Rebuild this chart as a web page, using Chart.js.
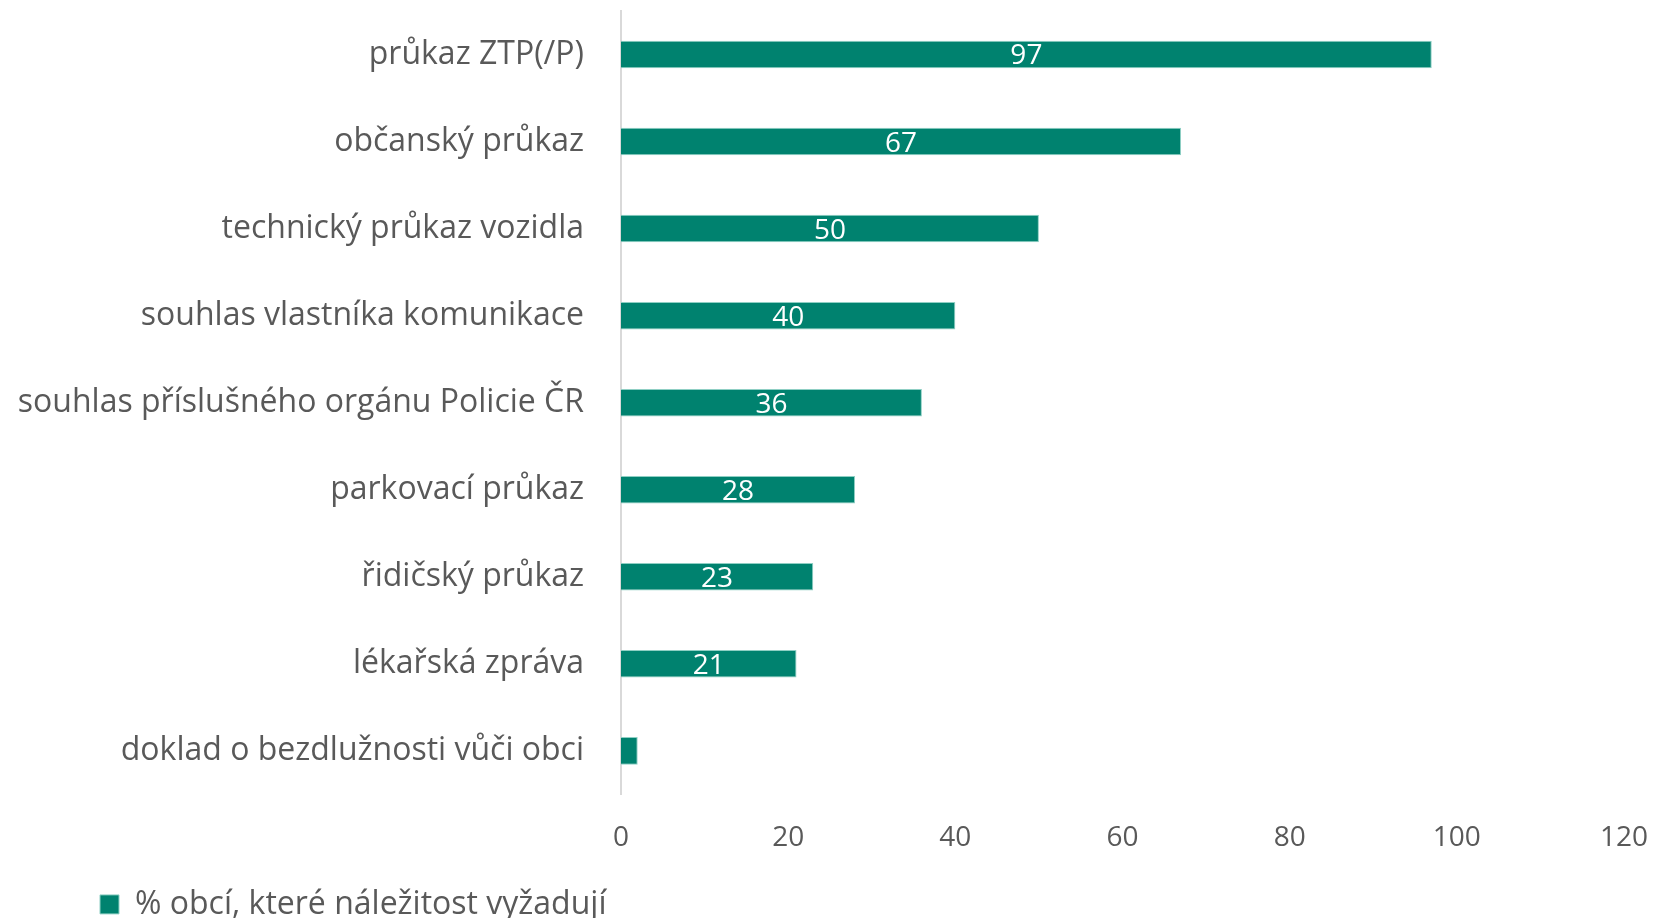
<!DOCTYPE html>
<html lang="cs">
<head>
<meta charset="utf-8">
<title>Náležitosti</title>
<script src="https://cdn.jsdelivr.net/npm/chart.js@4/dist/chart.umd.min.js"></script>
<style>
    html, body { margin: 0; padding: 0; background: #ffffff; }
    #contenedor { width: 1654px; height: 918px; position: relative; }
</style>
</head>
<body>
<div id="contenedor">
    <canvas id="grafica"></canvas>
</div>
<script>
// ============================
// DATOS
// ============================

const categorias = [
    "průkaz ZTP(/P)",
    "občanský průkaz",
    "technický průkaz vozidla",
    "souhlas vlastníka komunikace",
    "souhlas příslušného orgánu Policie ČR",
    "parkovací průkaz",
    "řidičský průkaz",
    "lékařská zpráva",
    "doklad o bezdlužnosti vůči obci"
];

const valores = [97, 67, 50, 40, 36, 28, 23, 21, 2];

const nombreSerie = "% obcí, které náležitost vyžadují";

const ticksX = [0, 20, 40, 60, 80, 100, 120];

const COLOR_BARRA = "#00826f";
const COLOR_TEXTO = "#595959";
const FUENTE = "'Open Sans', 'DejaVu Sans', sans-serif";
const TAM_GRANDE = 32;   // categorías y leyenda
const TAM_CHICO = 28;    // ejes y números


// ============================
// PLUGINS
// ============================

const etiquetasBarras = {
    id: "etiquetasBarras",
    afterDatasetsDraw(chart) {
        const ctx = chart.ctx;
        const meta = chart.getDatasetMeta(0);

        ctx.save();
        ctx.font = TAM_CHICO + "px " + FUENTE;
        ctx.fillStyle = "#ffffff";
        ctx.textAlign = "center";
        ctx.textBaseline = "middle";

        meta.data.forEach((barra, i) => {
            const texto = String(valores[i]);
            const ancho = Math.abs(barra.x - barra.base);
            // solo si el número cabe dentro de la barra
            if (ctx.measureText(texto).width + 6 > ancho) return;
            ctx.fillText(texto, (barra.x + barra.base) / 2, barra.y + 2);
        });

        ctx.restore();
    }
};

// la leyenda empieza un poco a la derecha, como en el original
const moverLeyenda = {
    id: "moverLeyenda",
    afterLayout(chart) {
        if (chart.legend) chart.legend.left = 90;
    }
};


// ============================
// GRÁFICA
// ============================

function crearGrafica() {

    const ctx = document.getElementById("grafica").getContext("2d");

    new Chart(ctx, {
        type: "bar",
        data: {
            labels: categorias,
            datasets: [{
                label: nombreSerie,
                data: valores,
                backgroundColor: COLOR_BARRA,
                borderColor: "#8fcfc4",
                borderWidth: 1,
                barPercentage: 0.316,
                categoryPercentage: 1
            }]
        },
        options: {
            indexAxis: "y",
            responsive: true,
            maintainAspectRatio: false,
            animation: false,
            layout: {
                padding: { left: 0, right: 30, top: 11, bottom: -12.4 }
            },
            plugins: {
                tooltip: { enabled: false },
                legend: {
                    position: "bottom",
                    align: "start",
                    labels: {
                        color: COLOR_TEXTO,
                        font: { family: FUENTE, size: TAM_GRANDE },
                        boxWidth: 19,
                        boxHeight: 19,
                        padding: 10
                    }
                }
            },
            scales: {
                x: {
                    min: 0,
                    max: 120,
                    afterBuildTicks: (escala) => {
                        escala.ticks = ticksX.map(v => ({ value: v }));
                    },
                    afterFit: (escala) => {
                        escala.height = 84;
                        escala.paddingLeft = 0;
                        escala.paddingRight = 0;
                    },
                    grid: { display: false, drawTicks: false },
                    border: { display: false },
                    ticks: {
                        color: COLOR_TEXTO,
                        font: { family: FUENTE, size: TAM_CHICO },
                        padding: 27
                    }
                },
                y: {
                    afterFit: (escala) => {
                        escala.width = 621;
                        escala.paddingTop = 0;
                        escala.paddingBottom = 0;
                    },
                    grid: { display: false, drawTicks: false },
                    border: { display: true, color: "#d9d9d9", width: 2 },
                    ticks: {
                        color: COLOR_TEXTO,
                        font: { family: FUENTE, size: TAM_GRANDE },
                        padding: 37
                    }
                }
            }
        },
        plugins: [etiquetasBarras, moverLeyenda]
    });
}

crearGrafica();
</script>
</body>
</html>
